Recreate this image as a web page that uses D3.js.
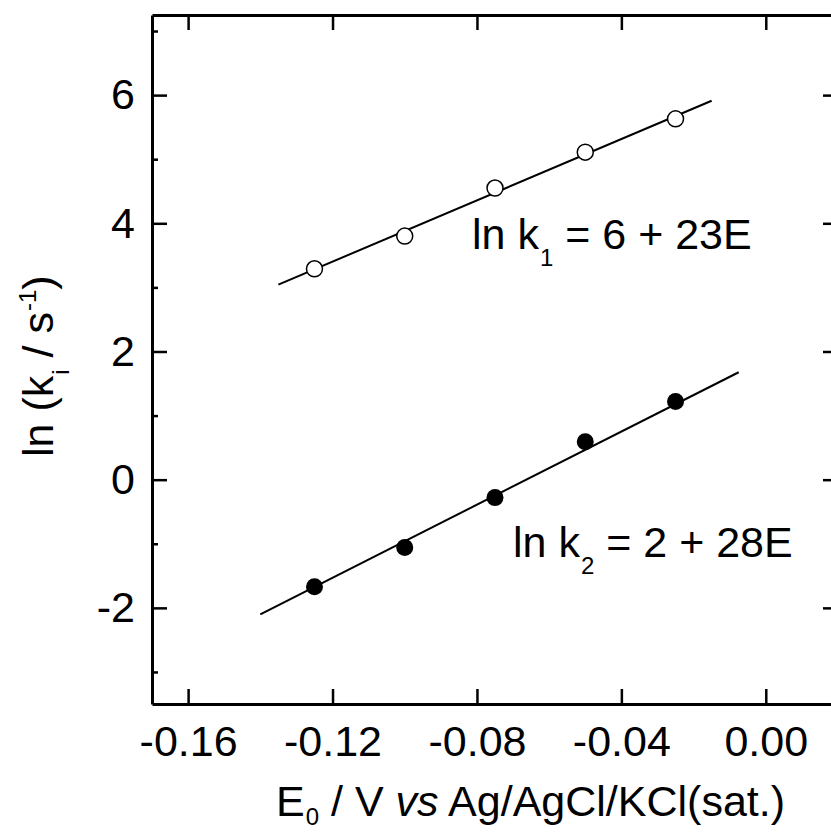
<!DOCTYPE html>
<html>
<head>
<meta charset="utf-8">
<script src="https://cdn.jsdelivr.net/npm/d3@7/dist/d3.min.js"></script>
<style>
  html, body { margin: 0; padding: 0; background: #fff; }
  svg { display: block; font-family: "Liberation Sans", Arial, Helvetica, sans-serif; }
</style>
</head>
<body>
<svg id="chart" width="831" height="832"></svg>
<script>
// Electrode potentials (V vs Ag/AgCl/KCl sat.)
const potentials = [-0.125, -0.100, -0.075, -0.050, -0.025];
// ln k1 (open circles) and ln k2 (filled circles)
const lnK1 = [3.29, 3.80, 4.55, 5.11, 5.63];
const lnK2 = [-1.67, -1.06, -0.28, 0.59, 1.22];
// Fitted straight lines: intercept, slope and drawn extent of E
const fitIntercepts = [6.27, 1.89];
const fitSlopes = [23.9, 28.5];
const fitStarts = [-0.135, -0.140];
const fitEnds = [-0.015, -0.0075];
// Axis ticks
const xTicks = [-0.16, -0.12, -0.08, -0.04, 0.00];
const yTicks = [-2, 0, 2, 4, 6];
const yMinorTicks = [-3, -1, 1, 3, 5, 7];
const xDomain = [-0.17, 0.02];
const yDomain = [-3.5, 7.25];

const svg = d3.select("#chart");
const plotL = 152, plotT = 15, plotR = 838, plotB = 704;

const x = d3.scaleLinear().domain(xDomain).range([plotL, plotR]);
const y = d3.scaleLinear().domain(yDomain).range([plotB, plotT]);

const fontSize = 43;
const subSize = 24;

// Frame axes with inward ticks
function styleAxis(g) {
  g.select(".domain").attr("stroke", "#000").attr("stroke-width", 3);
  g.selectAll(".tick line").attr("stroke", "#000").attr("stroke-width", 2.5);
}

const gBottom = svg.append("g").attr("transform", `translate(0,${plotB})`)
  .call(d3.axisBottom(x).tickValues(xTicks).tickSizeInner(-15).tickSizeOuter(0).tickPadding(21));
styleAxis(gBottom);
gBottom.selectAll(".tick text").attr("font-size", fontSize).attr("fill", "#000")
  .attr("font-family", "Liberation Sans, Arial, sans-serif")
  .text(d => d3.format(".2f")(d).replace("\u2212", "-"));

const gTop = svg.append("g").attr("transform", `translate(0,${plotT})`)
  .call(d3.axisTop(x).tickValues(xTicks).tickSizeInner(-15).tickSizeOuter(0).tickFormat(""));
styleAxis(gTop);

const gLeft = svg.append("g").attr("transform", `translate(${plotL},0)`)
  .call(d3.axisLeft(y).tickValues(yTicks).tickSizeInner(-15).tickSizeOuter(0).tickPadding(17));
styleAxis(gLeft);
gLeft.selectAll(".tick text").attr("font-size", fontSize).attr("fill", "#000")
  .attr("font-family", "Liberation Sans, Arial, sans-serif")
  .text(d => String(d));

const gLeftMinor = svg.append("g").attr("transform", `translate(${plotL},0)`)
  .call(d3.axisLeft(y).tickValues(yMinorTicks).tickSizeInner(-6).tickSizeOuter(0).tickFormat(""));
styleAxis(gLeftMinor);
gLeftMinor.select(".domain").remove();

const gRight = svg.append("g").attr("transform", `translate(${plotR},0)`)
  .call(d3.axisRight(y).tickValues(yTicks).tickSizeInner(-15).tickSizeOuter(0).tickFormat(""));
styleAxis(gRight);

// Fitted lines
const line = d3.line().x(d => x(d[0])).y(d => y(d[1]));
fitIntercepts.forEach((b, i) => {
  const m = fitSlopes[i];
  svg.append("path")
    .datum([fitStarts[i], fitEnds[i]].map(e => [e, b + m * e]))
    .attr("d", line).attr("fill", "none").attr("stroke", "#000").attr("stroke-width", 2);
});

// Data markers
svg.append("g").selectAll("circle").data(potentials.map((e, i) => [e, lnK1[i]]))
  .join("circle").attr("cx", d => x(d[0])).attr("cy", d => y(d[1])).attr("r", 8)
  .attr("fill", "#fff").attr("stroke", "#000").attr("stroke-width", 1.5);
svg.append("g").selectAll("circle").data(potentials.map((e, i) => [e, lnK2[i]]))
  .join("circle").attr("cx", d => x(d[0])).attr("cy", d => y(d[1])).attr("r", 8.5)
  .attr("fill", "#000");

// Equation labels
function eq(px, py, sub, rest) {
  const t = svg.append("text").attr("x", px).attr("y", py).attr("font-size", fontSize).attr("fill", "#000");
  t.append("tspan").text("ln k");
  t.append("tspan").attr("font-size", subSize).attr("dy", 17).attr("dx", 1).text(sub);
  t.append("tspan").attr("dy", -17).text("\u00a0= " + rest);
}
eq(472, 249, "1", "6 + 23E");
eq(513, 557, "2", "2 + 28E");

// X axis title
const xt = svg.append("text").attr("x", 276).attr("y", 816).attr("font-size", fontSize).attr("fill", "#000");
xt.append("tspan").text("E");
xt.append("tspan").attr("font-size", subSize).attr("dy", 9).attr("dx", 1).text("0");
xt.append("tspan").attr("dy", -9).text("\u00a0/ V\u00a0");
xt.append("tspan").attr("font-style", "italic").text("vs");
xt.append("tspan").text(" Ag/AgCl/KCl(sat.)");

// Y axis title
const yt = svg.append("text").attr("transform", "translate(53,457) rotate(-90)")
  .attr("font-size", fontSize).attr("fill", "#000");
yt.append("tspan").text("ln (k");
yt.append("tspan").attr("font-size", subSize).attr("dy", 16).attr("dx", 1).text("i");
yt.append("tspan").attr("dy", -16).text("\u00a0/ s");
yt.append("tspan").attr("font-size", subSize).attr("dy", -17).attr("dx", 1).text("-1");
yt.append("tspan").attr("dy", 17).text(")");
</script>
</body>
</html>
